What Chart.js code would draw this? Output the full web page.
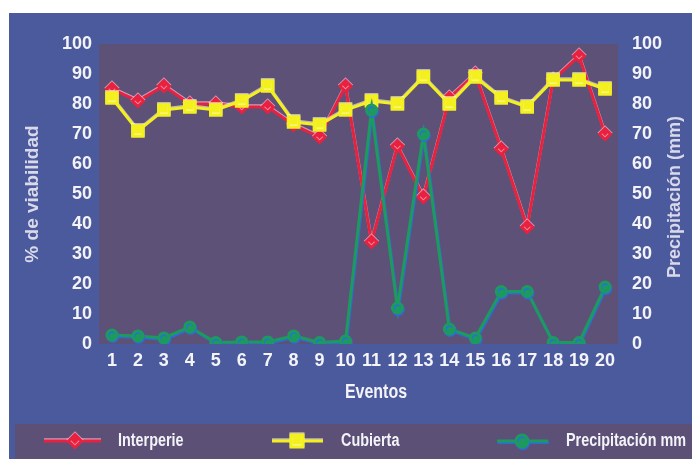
<!DOCTYPE html>
<html>
<head>
<meta charset="utf-8">
<script src="https://cdn.jsdelivr.net/npm/chart.js@4/dist/chart.umd.min.js"></script>
<style>
  html, body { margin: 0; padding: 0; background: #ffffff; }
  #c { display: block; }
</style>
</head>
<body>
<canvas id="c" width="692" height="459"></canvas>
<script>
// Eventos de muestreo y series de viabilidad / precipitación
const eventos = ['1','2','3','4','5','6','7','8','9','10','11','12','13','14','15','16','17','18','19','20'];
const interperie = [85, 81, 86, 80, 80, 79, 79, 73, 69, 86, 34, 66, 49, 82, 90, 65, 39, 88, 96, 70];
const cubierta = [82, 71, 78, 79, 78, 81, 86, 74, 73, 78, 81, 80, 89, 80, 89, 82, 79, 88, 88, 85];
const precipitacion = [3, 2.7, 2, 5.7, 0.5, 0.7, 0.7, 2.7, 0.5, 1, 78, 12, 70, 5, 2, 17.5, 17.5, 0.5, 0.5, 19];
const ejeMin = 0, ejeMax = 100, ejePaso = 10;

const tituloIzq = '% de viabilidad';
const tituloDer = 'Precipitación (mm)';
const tituloX = 'Eventos';
const nombres = ['Interperie', 'Cubierta', 'Precipitación mm'];

const AZUL = '#4b5a9c';
const MALVA = '#5e5177';
const BANDA = '#5c5077';
const BLANCO = '#f3f3f8';
const CLARO = '#d9d9ea';
const FAM = "'Liberation Sans', Arial, sans-serif";

// Bordes desplazados de cada trazo (efecto de impresión)
const halos = [
  { color: 'rgba(255,185,215,0.7)', dx: 0, dy: -1.2 },
  { color: 'rgba(255,255,225,0.6)', dx: 0, dy: -1.2 },
  { color: 'rgba(40,110,225,0.9)', dx: 0.8, dy: 1.4 }
];

// Texto en versión estrecha: escala horizontal del trazo de la fuente
function textoEstrecho(ctx, txt, x, y, size, align) {
  const k = 0.8;
  ctx.save();
  ctx.font = 'bold ' + size + 'px ' + FAM;
  ctx.textAlign = align;
  ctx.textBaseline = 'middle';
  ctx.translate(x, y);
  ctx.scale(k, 1);
  ctx.fillText(txt, 0, 0);
  ctx.restore();
}

const fondo = {
  id: 'fondo',
  beforeDraw(chart) {
    const { ctx, chartArea: a, width, height } = chart;
    ctx.save();
    ctx.fillStyle = '#ffffff';
    ctx.fillRect(0, 0, width, height);
    ctx.fillStyle = AZUL;
    ctx.fillRect(9, 13, width - 9, height - 13);
    ctx.fillStyle = MALVA;
    ctx.fillRect(a.left, a.top, a.right - a.left, a.bottom - a.top);
    ctx.fillStyle = BANDA;
    ctx.fillRect(15, 424, width - 15, height - 424);
    ctx.restore();
  },
  beforeDatasetDraw(chart, args) {
    const h = halos[args.index];
    const ctx = chart.ctx;
    ctx.save();
    ctx.shadowColor = h.color;
    ctx.shadowOffsetX = h.dx;
    ctx.shadowOffsetY = h.dy;
    ctx.shadowBlur = 0;
  },
  afterDatasetDraw(chart) {
    chart.ctx.restore();
  },
  afterDraw(chart) {
    const { ctx } = chart;
    ctx.save();
    // Título del eje derecho, leído de abajo arriba
    ctx.fillStyle = CLARO;
    ctx.font = 'bold 18px ' + FAM;
    ctx.textAlign = 'center';
    ctx.textBaseline = 'middle';
    ctx.translate(675, 197);
    ctx.rotate(-Math.PI / 2);
    ctx.fillText(tituloDer, 0, 0);
    ctx.restore();

    // Título del eje X
    ctx.save();
    ctx.fillStyle = BLANCO;
    textoEstrecho(ctx, tituloX, 376, 392, 20, 'center');
    ctx.restore();

    // Leyenda inferior
    const simbolo = [75, 297, 522];
    const linea = [[44, 101], [272, 323], [497, 548]];
    const texto = [118, 341, 566];
    const yL = 441;
    chart.data.datasets.forEach((ds, i) => {
      ctx.save();
      ctx.shadowColor = halos[i].color;
      ctx.shadowOffsetX = halos[i].dx;
      ctx.shadowOffsetY = halos[i].dy;
      ctx.strokeStyle = ds.borderColor;
      ctx.lineWidth = 3;
      ctx.beginPath();
      ctx.moveTo(linea[i][0], yL);
      ctx.lineTo(linea[i][1], yL);
      ctx.stroke();
      ctx.fillStyle = ds.pointBackgroundColor;
      ctx.strokeStyle = ds.pointBackgroundColor;
      Chart.helpers.drawPoint(ctx, {
        pointStyle: ds.pointStyle,
        radius: ds.pointRadius + 1,
        rotation: 0,
        borderWidth: 1
      }, simbolo[i], yL);
      ctx.restore();
      ctx.save();
      ctx.fillStyle = BLANCO;
      textoEstrecho(ctx, ds.label, texto[i], yL, 18, 'left');
      ctx.restore();
    });
  }
};

new Chart(document.getElementById('c'), {
  type: 'line',
  data: {
    labels: eventos,
    datasets: [
      {
        label: nombres[0],
        data: interperie,
        yAxisID: 'y',
        borderColor: '#e8223e',
        backgroundColor: '#e8223e',
        pointBackgroundColor: '#e8223e',
        pointBorderColor: '#e8223e',
        pointStyle: 'rectRot',
        pointRadius: 5.5,
        borderWidth: 3,
        order: 3
      },
      {
        label: nombres[1],
        data: cubierta,
        yAxisID: 'y',
        borderColor: '#f3f01e',
        backgroundColor: '#f3f01e',
        pointBackgroundColor: '#f3f01e',
        pointBorderColor: '#f3f01e',
        pointStyle: 'rect',
        pointRadius: 7.5,
        borderWidth: 3,
        order: 2
      },
      {
        label: nombres[2],
        data: precipitacion,
        yAxisID: 'y2',
        borderColor: '#1d9a5e',
        backgroundColor: '#1d9a5e',
        pointBackgroundColor: '#1d9a5e',
        pointBorderColor: '#1d9a5e',
        pointStyle: 'circle',
        pointRadius: 5,
        borderWidth: 3,
        order: 1
      }
    ]
  },
  options: {
    responsive: false,
    animation: false,
    devicePixelRatio: 1,
    layout: { padding: { top: 44, left: 0, right: 0, bottom: 0 } },
    elements: { line: { tension: 0 } },
    plugins: {
      legend: { display: false },
      tooltip: { enabled: false }
    },
    scales: {
      x: {
        type: 'category',
        offset: true,
        grid: { display: false, drawTicks: false },
        border: { display: false },
        ticks: { color: BLANCO, font: { family: FAM, weight: 'bold', size: 18 }, padding: 6, maxRotation: 0, autoSkip: false },
        afterFit(s) { s.height = 115; }
      },
      y: {
        position: 'left',
        min: ejeMin, max: ejeMax,
        grid: { display: false, drawTicks: false },
        border: { display: false },
        ticks: { stepSize: ejePaso, color: BLANCO, font: { family: FAM, weight: 'bold', size: 18 }, padding: 7 },
        title: { display: true, text: tituloIzq, color: CLARO, font: { family: FAM, weight: 'bold', size: 19 }, padding: { top: 21, bottom: 0 } },
        afterFit(s) { s.width = 99; }
      },
      y2: {
        position: 'right',
        min: ejeMin, max: ejeMax,
        grid: { display: false, drawTicks: false },
        border: { display: false },
        ticks: { stepSize: ejePaso, color: BLANCO, font: { family: FAM, weight: 'bold', size: 18 }, padding: 14 },
        afterFit(s) { s.width = 74; }
      }
    }
  },
  plugins: [fondo]
});
</script>
</body>
</html>
